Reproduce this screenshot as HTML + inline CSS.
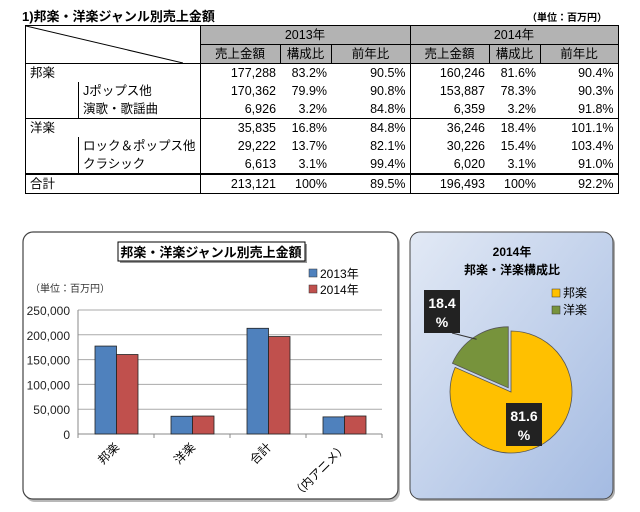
<!DOCTYPE html>
<html><head><meta charset="utf-8"><style>
body{margin:0;width:640px;height:512px;background:#fff;font-family:"Liberation Sans","Noto Sans CJK JP",sans-serif;position:relative;overflow:hidden}
.a{position:absolute}
table{border-collapse:collapse;position:absolute;left:25px;top:25px;font-size:12.5px}
td{padding:0 4px;height:18px;line-height:16px;text-align:right;white-space:nowrap}
.h{background:#b3b3b3;text-align:center;border:1px solid #000}
</style></head><body>
<div class="a" style="left:22px;top:6px;font-size:13px;font-weight:bold">1)邦楽・洋楽ジャンル別売上金額</div>
<div class="a" style="left:527px;top:9px;font-size:10px;font-weight:bold">（単位：百万円）</div>
<table>
<colgroup><col style="width:53px"><col style="width:104px"><col style="width:80px"><col style="width:51px"><col style="width:79px"><col style="width:79px"><col style="width:51px"><col style="width:78px"></colgroup>
<tr><td colspan="2" rowspan="2" style="border:1px solid #000;padding:0;position:relative"><svg width="157" height="37" style="display:block"><line x1="0" y1="0" x2="157" y2="37" stroke="#000"/></svg></td><td colspan="3" class="h">2013年</td><td colspan="3" class="h">2014年</td></tr>
<tr><td class="h">売上金額</td><td class="h">構成比</td><td class="h">前年比</td><td class="h">売上金額</td><td class="h">構成比</td><td class="h">前年比</td></tr>
<tr style="border-top:1px solid #000"><td style="text-align:left;border-left:1px solid #000">邦楽</td><td></td><td style="border-left:1px solid #000">177,288</td><td>83.2%</td><td>90.5%</td><td style="border-left:1px solid #000">160,246</td><td>81.6%</td><td style="border-right:1px solid #000">90.4%</td></tr>
<tr><td style="border-left:1px solid #000"></td><td style="text-align:left;border-left:1px solid #000">Jポップス他</td><td style="border-left:1px solid #000">170,362</td><td>79.9%</td><td>90.8%</td><td style="border-left:1px solid #000">153,887</td><td>78.3%</td><td style="border-right:1px solid #000">90.3%</td></tr>
<tr><td style="border-left:1px solid #000"></td><td style="text-align:left;border-left:1px solid #000">演歌・歌謡曲</td><td style="border-left:1px solid #000">6,926</td><td>3.2%</td><td>84.8%</td><td style="border-left:1px solid #000">6,359</td><td>3.2%</td><td style="border-right:1px solid #000">91.8%</td></tr>
<tr style="border-top:1px solid #000"><td style="text-align:left;border-left:1px solid #000">洋楽</td><td></td><td style="border-left:1px solid #000">35,835</td><td>16.8%</td><td>84.8%</td><td style="border-left:1px solid #000">36,246</td><td>18.4%</td><td style="border-right:1px solid #000">101.1%</td></tr>
<tr><td style="border-left:1px solid #000"></td><td style="text-align:left;border-left:1px solid #000">ロック＆ポップス他</td><td style="border-left:1px solid #000">29,222</td><td>13.7%</td><td>82.1%</td><td style="border-left:1px solid #000">30,226</td><td>15.4%</td><td style="border-right:1px solid #000">103.4%</td></tr>
<tr><td style="border-left:1px solid #000"></td><td style="text-align:left;border-left:1px solid #000">クラシック</td><td style="border-left:1px solid #000">6,613</td><td>3.1%</td><td>99.4%</td><td style="border-left:1px solid #000">6,020</td><td>3.1%</td><td style="border-right:1px solid #000">91.0%</td></tr>
<tr style="border-top:2px solid #000;border-bottom:1px solid #000"><td style="text-align:left;border-left:1px solid #000">合計</td><td></td><td style="border-left:1px solid #000">213,121</td><td>100%</td><td>89.5%</td><td style="border-left:1px solid #000">196,493</td><td>100%</td><td style="border-right:1px solid #000">92.2%</td></tr>
</table>

<svg id="bar" class="a" style="left:0;top:0" width="640" height="512">
<defs><linearGradient id="pg" x1="0" y1="0" x2="1" y2="1"><stop offset="0" stop-color="#e2e9f5"/><stop offset="1" stop-color="#a4bbe2"/></linearGradient></defs>
<rect x="25" y="234" width="375" height="268" rx="10" fill="#888" opacity="0.6"/>
<rect x="23" y="232" width="375" height="267" rx="10" fill="#fff" stroke="#444" stroke-width="1.2"/>
<rect x="120" y="244" width="187" height="19" fill="#999"/>
<rect x="118" y="242" width="187" height="19" fill="#fff" stroke="#000"/>
<text x="211" y="257" text-anchor="middle" font-size="13" font-weight="bold">邦楽・洋楽ジャンル別売上金額</text>
<text x="30" y="292" font-size="10" fill="#333">（単位：百万円）</text>
<rect x="309" y="269" width="8" height="8" fill="#4f81bd" stroke="#333" stroke-width=".5"/>
<text x="320" y="278" font-size="12">2013年</text>
<rect x="309" y="285" width="8" height="8" fill="#c0504d" stroke="#333" stroke-width=".5"/>
<text x="320" y="294" font-size="12">2014年</text>
<g id="bars"></g>

<rect x="410" y="232" width="203" height="267" rx="10" fill="#777" transform="translate(2,2)" opacity="0.6"/>
<rect x="410" y="232" width="203" height="267" rx="10" fill="url(#pg)" stroke="#444"/>
<text x="512" y="256" text-anchor="middle" font-size="12" font-weight="bold">2014年</text>
<text x="512" y="274" text-anchor="middle" font-size="12" font-weight="bold">邦楽・洋楽構成比</text>
<rect x="552" y="289" width="8" height="8" fill="#ffc000" stroke="#333" stroke-width=".5"/>
<text x="563" y="297" font-size="12">邦楽</text>
<rect x="552" y="306" width="8" height="8" fill="#77933c" stroke="#333" stroke-width=".5"/>
<text x="563" y="314" font-size="12">洋楽</text>
<g id="pie"></g>
</svg>
<script>
const categories=['邦楽','洋楽','合計','（内アニメ）'];
const s2013=[177288,35835,213121,34500];
const s2014=[160246,36246,196493,36300];
const yTicks=[0,50000,100000,150000,200000,250000];
const tickLabels=['0','50,000','100,000','150,000','200,000','250,000'];
const pieLabels=['邦楽','洋楽'];
const pieValues=[81.6,18.4];
const NS='http://www.w3.org/2000/svg';
function mk(t,a,p){const e=document.createElementNS(NS,t);for(const k in a)e.setAttribute(k,a[k]);p.appendChild(e);return e;}
const g=document.getElementById('bars');
const x0=78,x1=382,y0=434,yTop=310,yMax=250000;
const Y=v=>y0-(v/yMax)*(y0-yTop);
const gw=(x1-x0)/categories.length;
yTicks.forEach((t,i)=>{
  const l=mk('line',{x1:x0,x2:x1,y1:Y(t),y2:Y(t),stroke:i?'#aaa':'#888'},g);
  
  
  const tx=mk('text',{x:70,y:Y(t)+5,'text-anchor':'end','font-size':'12',fill:'#222'},g);
  tx.textContent=tickLabels[i];
  
  
});
const ax=mk('line',{x1:x0,x2:x0,y1:yTop,y2:y0+4,stroke:'#888'},g);


categories.forEach((c,i)=>{
  const gx=x0+i*gw;
  [[s2013[i],'#4f81bd'],[s2014[i],'#c0504d']].forEach(([v,col],j)=>{
    const r=mk('rect',{x:gx+17+j*21.5,y:Y(v),width:21.5,height:y0-Y(v),fill:col,stroke:'#222','stroke-width':'.8'},g);
    
    
  });
  const tk=mk('line',{x1:gx+gw,x2:gx+gw,y1:y0,y2:y0+4,stroke:'#888'},g);
  
  
  const cx=gx+gw/2+4;
  const t=mk('text',{x:cx,y:y0+14,'text-anchor':'end','font-size':'12',transform:`rotate(-45 ${cx} ${y0+14})`},g);
  t.textContent=c;
  
  
});
const p=document.getElementById('pie');
const cx=511,cy=392,R=61;
const tot=pieValues.reduce((a,b)=>a+b,0);
let a=0;
const cols=['#ffc000','#77933c'];
pieValues.forEach((v,i)=>{
  const sw=v/tot*2*Math.PI;
  const st=a,en=a+sw;a=en;
  const mid=(st+en)/2;
  const off=i?5:0;
  const ox=cx+off*Math.sin(mid),oy=cy-off*Math.cos(mid);
  const P=t=>[ox+R*Math.sin(t),oy-R*Math.cos(t)];
  const [ax1,ay1]=P(st),[ax2,ay2]=P(en);
  const path=mk('path',{d:`M${ox},${oy}L${ax1},${ay1}A${R},${R} 0 ${sw>Math.PI?1:0} 1 ${ax2},${ay2}Z`,fill:cols[i],stroke:'#555','stroke-width':'.8'},p);
  
  
  const bx=i?442:524,by=i?311:424;
  if(i){const ln=mk('line',{x1:bx+10,y1:by+22,x2:ox+R*0.95*Math.sin(mid),y2:oy-R*0.95*Math.cos(mid),stroke:'#333'},p);
    
    }
  const b=mk('rect',{x:bx-18,y:by-21,width:36,height:43,fill:'#222'},p);
  
  
  const t1=mk('text',{x:bx,y:by-3,'text-anchor':'middle','font-size':'14','font-weight':'bold',fill:'#fff'},p);
  t1.textContent=v.toFixed(1);
  
  
  const t2=mk('text',{x:bx,y:by+16,'text-anchor':'middle','font-size':'14','font-weight':'bold',fill:'#fff'},p);
  t2.textContent='%';
  
  
});
</script>
</body></html>
